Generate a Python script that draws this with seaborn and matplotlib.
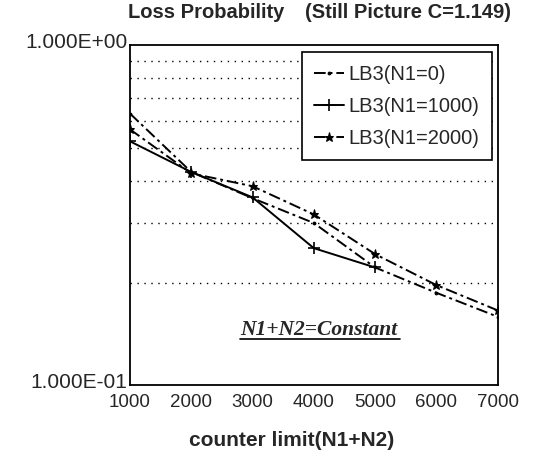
#!/usr/bin/env python3
"""Loss probability vs. counter limit (N1+N2) for LB3 policies."""

import matplotlib
import numpy as np
import pandas as pd
import seaborn as sns

matplotlib.use("Agg")
import matplotlib.pyplot as plt
import matplotlib.transforms as mtransforms
from matplotlib.ticker import FixedLocator, NullFormatter

# counter limit values (x axis)
counter_limit = [1000, 2000, 3000, 4000, 5000, 6000, 7000]

# loss probability per series
loss_n1_0 = [0.63, 0.424, 0.355, 0.30, 0.222, 0.187, 0.159]
loss_n1_1000 = [0.522, 0.424, 0.357, 0.253, 0.222, np.nan, np.nan]
loss_n1_2000 = [0.566, 0.42, 0.385, 0.318, 0.243, 0.197, 0.166]

series_labels = ["LB3(N1=0)", "LB3(N1=1000)", "LB3(N1=2000)"]
y_tick_labels = ["1.000E-01", "1.000E+00"]


def main() -> None:
    sns.set_theme(style="white")
    plt.rcParams["font.family"] = ["Liberation Sans", "DejaVu Sans"]

    fig = plt.figure(figsize=(5.53, 4.58), dpi=100)
    ax = fig.add_axes([0.235, 0.159, 0.665, 0.742])

    dashdot = (0, (6, 2, 1.5, 2))
    styles = [
        {"linestyle": dashdot, "marker": ".", "markersize": 4},
        {"linestyle": "-", "marker": "+", "markersize": 8, "markeredgewidth": 1.2},
        {"linestyle": dashdot, "marker": "*", "markersize": 6.5},
    ]
    for values, label, st in zip([loss_n1_0, loss_n1_1000, loss_n1_2000], series_labels, styles):
        df = pd.DataFrame({"x": counter_limit, "y": values}).dropna()
        sns.lineplot(data=df, x="x", y="y", ax=ax, color="black", linewidth=1.4,
                     markeredgecolor="black", markerfacecolor="black", label=label, **st)

    ax.set_yscale("log")
    ax.set_ylim(0.1, 1.0)
    ax.set_xlim(1000, 7000)
    ax.yaxis.set_major_locator(FixedLocator([0.1, 1.0]))
    ax.set_yticklabels(y_tick_labels)
    ax.yaxis.set_minor_locator(FixedLocator([0.2, 0.3, 0.4, 0.5, 0.6, 0.7, 0.8, 0.9]))
    ax.yaxis.set_minor_formatter(NullFormatter())
    ax.set_xticks(counter_limit)
    ax.set_xticklabels([str(v) for v in counter_limit])
    ax.grid(True, which="minor", axis="y", color="black", linestyle=(0, (1, 4)), linewidth=1.0)
    ax.tick_params(axis="x", which="both", length=0, labelsize=13.5, pad=6)
    ax.tick_params(axis="y", which="both", length=0, labelsize=15, pad=2)
    # y labels sit slightly above their gridline in the original
    shift = mtransforms.ScaledTranslation(0, 5 / 100, fig.dpi_scale_trans)
    for lbl in ax.get_yticklabels():
        lbl.set_transform(lbl.get_transform() + shift)
    for spine in ax.spines.values():
        spine.set_color("black")
        spine.set_linewidth(1.3)

    ax.set_xlabel("")
    ax.set_ylabel("")
    fig.text(0.528, 0.039, "counter limit(N1+N2)", fontsize=15, fontweight="bold",
             ha="center", va="center")

    fig.text(0.231, 0.972, "Loss Probability", fontsize=14.5, fontweight="bold", ha="left", va="center")
    fig.text(0.552, 0.972, "(Still Picture C=1.149)", fontsize=14.5, fontweight="bold",
             ha="left", va="center")

    ax.text(2800, 0.1456, "N1+N2=Constant", fontsize=15.5, fontstyle="italic", fontweight="bold",
            family=["Liberation Serif", "DejaVu Serif"], ha="left", va="center")
    ax.plot([2800, 5400], [0.137, 0.137], color="black", linewidth=1.2)

    leg = ax.legend(loc="upper right", bbox_to_anchor=(0.984, 0.979), fontsize=14.5, frameon=True,
                    fancybox=False, edgecolor="black", framealpha=1, handlelength=1.5,
                    handletextpad=0.25, labelspacing=0.65, borderpad=0.6, borderaxespad=0)
    leg.get_frame().set_linewidth(1.2)

    fig.savefig("out.png", dpi=100)
    plt.close(fig)


if __name__ == "__main__":
    main()
